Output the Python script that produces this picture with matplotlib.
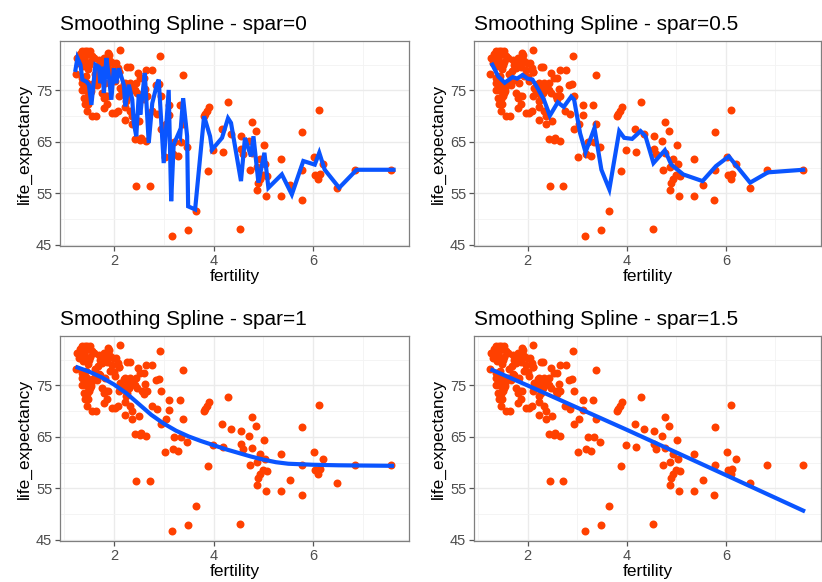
import numpy as np
import matplotlib.pyplot as plt
from matplotlib.ticker import MultipleLocator

plt.rcParams['font.family'] = ['Liberation Sans', 'DejaVu Sans']

# scatter data (fertility vs life expectancy)
fertility = [
    2.92, 2.12, 3.39, 2.77, 2.65, 2.32, 2.48, 2.60, 2.53, 2.90, 2.84, 2.63, 2.66, 2.94,
    3.11, 3.32, 4.28, 3.91, 3.87, 3.82, 3.80, 6.11, 2.76, 2.86, 3.11, 3.39, 3.04, 2.94,
    4.78, 4.85, 4.16, 4.34, 4.56, 5.78, 4.72, 5.02, 2.43, 2.55, 2.65, 3.21, 3.35, 3.46,
    3.99, 4.18, 4.55, 4.59, 4.78, 3.18, 3.29, 3.02, 6.02, 5.36, 6.20, 4.94, 5.04, 4.87,
    4.74, 3.89, 5.78, 6.84, 7.56, 6.04, 6.13, 6.10, 5.08, 5.00, 4.94, 4.90, 5.53, 6.48,
    4.87, 5.06, 5.35, 5.77, 2.45, 2.72, 3.64, 3.49, 4.54, 3.16,
    1.27, 1.37, 1.47, 1.30, 1.40, 1.50, 1.57, 1.70, 1.80, 1.90, 1.93, 1.73, 1.77, 1.87,
    1.97, 2.27, 1.24, 1.37, 1.43, 1.37, 1.47, 1.53, 1.60, 1.67, 1.40, 1.43, 1.47, 1.57,
    1.50, 1.73, 1.83, 1.77, 1.80, 1.87, 1.80, 1.97, 2.03, 2.03, 2.13, 2.23, 2.33, 2.37,
    2.43, 2.20, 2.27, 2.57, 2.23, 2.33, 2.37, 2.50, 2.23, 2.37, 2.17, 2.53, 2.44, 2.05,
    1.42, 1.52, 1.35, 1.61, 1.88, 1.98, 1.81, 2.08, 2.11, 1.75, 1.39, 1.46, 1.55, 1.58,
    1.46, 1.48, 1.65, 1.71, 1.85, 1.88, 2.08, 2.11, 2.21, 2.28, 2.31, 2.11, 2.24, 2.47,
    2.60, 1.32, 1.45, 1.52, 1.36, 1.62, 1.44, 1.41, 1.55, 1.33, 1.49, 1.92, 2.00, 1.68,
]
life_expectancy = [
    81.6, 82.9, 78.0, 78.9, 78.9, 79.5, 78.4, 77.4, 77.4, 76.3, 76.1, 75.2, 73.9, 73.9,
    72.1, 72.1, 72.7, 71.7, 71.1, 70.5, 70.0, 71.3, 71.1, 70.4, 70.2, 68.4, 68.4, 67.6,
    68.8, 67.1, 67.6, 66.6, 66.2, 67.0, 65.2, 64.4, 65.5, 65.7, 65.2, 65.0, 65.0, 64.1,
    63.4, 63.1, 63.7, 62.6, 62.9, 62.6, 62.3, 62.0, 62.0, 61.7, 60.7, 61.6, 60.8, 60.2,
    59.5, 59.4, 59.5, 59.5, 59.5, 58.6, 58.8, 57.9, 58.3, 58.6, 57.9, 57.0, 56.6, 56.1,
    55.6, 54.5, 54.5, 53.7, 56.5, 56.5, 51.6, 48.0, 48.1, 46.7,
    81.3, 82.6, 82.6, 80.3, 80.9, 80.0, 81.6, 80.9, 81.3, 81.9, 80.7, 80.0, 79.3, 79.6,
    79.0, 79.5, 78.2, 76.4, 75.8, 75.1, 74.8, 74.5, 76.4, 76.1, 73.5, 72.3, 71.0, 70.0,
    73.9, 77.1, 76.5, 74.5, 73.5, 72.3, 71.6, 70.6, 70.6, 76.8, 75.5, 76.5, 76.5, 75.5,
    75.1, 74.5, 73.5, 73.9, 71.7, 71.0, 70.0, 69.0, 69.3, 68.4, 74.8, 65.4, 76.5, 80.3,
    82.6, 82.6, 81.3, 81.3, 82.3, 80.4, 80.4, 79.4, 78.5, 80.0, 79.7, 76.5, 75.5, 76.2,
    73.3, 72.3, 70.1, 77.2, 74.0, 74.0, 71.0, 74.0, 76.2, 75.5, 74.6, 78.5, 73.0, 74.6,
    73.3, 82.0, 81.8, 80.6, 77.5, 78.2, 77.8, 75.3, 74.9, 80.8, 79.2, 77.9, 77.6, 78.8,
]

# fitted smoothing-spline curves, one per panel
spar_labels = ['0', '0.5', '1', '1.5']
fit0_x = [1.23, 1.27, 1.33, 1.37, 1.45, 1.50, 1.55, 1.60, 1.63, 1.70, 1.73, 1.77, 1.80, 1.85,
          1.90, 1.95, 2.00, 2.05, 2.10, 2.20, 2.23, 2.30, 2.37, 2.40, 2.45, 2.50, 2.53, 2.57,
          2.62, 2.70, 2.77, 2.87, 2.90, 3.00, 3.10, 3.15, 3.20, 3.30, 3.33, 3.39, 3.47, 3.49,
          3.63, 3.81, 3.93, 3.97, 4.17, 4.29, 4.35, 4.55, 4.63, 4.75, 4.80, 4.90, 5.02, 5.10,
          5.37, 5.57, 5.80, 6.03, 6.12, 6.23, 6.52, 6.87, 7.61]
fit0_y = [79.0, 81.3, 80.0, 77.1, 76.7, 76.1, 72.2, 77.1, 80.0, 79.6, 76.4, 79.6, 74.5, 81.3,
          77.7, 73.2, 79.3, 76.4, 79.3, 76.1, 71.9, 76.1, 73.2, 68.7, 66.1, 74.2, 70.3, 73.8,
          78.4, 64.8, 72.5, 76.4, 77.1, 60.9, 75.1, 53.5, 64.5, 66.7, 66.1, 73.5, 66.1, 52.5,
          51.9, 70.0, 66.1, 63.5, 65.8, 69.6, 68.7, 57.4, 65.8, 62.2, 66.1, 57.1, 62.9, 56.1,
          58.7, 54.8, 61.3, 60.6, 62.9, 59.6, 56.1, 59.6, 59.6]
fit05_x = [1.29, 1.41, 1.54, 1.70, 1.79, 1.90, 2.00, 2.10, 2.20, 2.33, 2.45, 2.61, 2.73, 2.88,
           2.94, 3.06, 3.17, 3.35, 3.49, 3.65, 3.85, 3.95, 4.11, 4.28, 4.38, 4.54, 4.77, 4.90,
           5.14, 5.53, 5.80, 6.06, 6.49, 6.85, 7.56]
fit05_y = [80.0, 77.7, 76.5, 77.6, 77.3, 78.0, 77.3, 77.1, 75.5, 73.2, 70.1, 72.7, 71.8, 73.8,
           73.2, 66.7, 63.0, 67.7, 59.6, 55.8, 67.1, 65.8, 65.6, 67.1, 66.1, 60.9, 63.4, 60.6,
           58.7, 57.4, 60.3, 62.2, 57.1, 59.1, 59.6]
fit1_x = [1.27, 1.50, 1.75, 2.00, 2.25, 2.50, 2.75, 3.00, 3.25, 3.50, 3.75, 4.00, 4.25,
          4.50, 4.75, 5.00, 5.25, 5.50, 6.00, 6.50, 7.00, 7.58]
fit1_y = [78.5, 77.7, 76.6, 75.2, 73.5, 71.4, 69.3, 67.6, 66.2, 65.1, 64.2, 63.4, 62.6,
          61.9, 61.2, 60.6, 60.1, 59.8, 59.6, 59.5, 59.45, 59.4]
fit15_x = [1.29, 2.00, 3.00, 4.00, 5.00, 6.00, 7.56]
fit15_y = [78.0, 75.0, 70.7, 66.4, 62.0, 57.6, 50.7]
fits = [(fit0_x, fit0_y), (fit05_x, fit05_y), (fit1_x, fit1_y), (fit15_x, fit15_y)]

fig = plt.figure(figsize=(8.22, 5.82), dpi=100)
W, H = 822, 582
boxes = [(60, 41, 409, 246), (474, 41, 821, 246),
         (60, 336, 409, 541), (474, 336, 821, 541)]

for i, (x0, y0, x1, y1) in enumerate(boxes):
    ax = fig.add_axes([x0 / W, 1 - y1 / H, (x1 - x0) / W, (y1 - y0) / H])
    ax.set_facecolor('white')
    ax.scatter(fertility, life_expectancy, s=33, color='#FF4000', linewidths=0, zorder=3)
    fx, fy = fits[i]
    ax.plot(fx, fy, color='#0A55FF', lw=3.0, zorder=4, solid_joinstyle='miter')
    ax.set_xlim(0.92, 7.92)
    ax.set_ylim(44.8, 84.6)
    ax.xaxis.set_major_locator(MultipleLocator(2))
    ax.xaxis.set_minor_locator(MultipleLocator(1))
    ax.set_yticks([45, 55, 65, 75])
    ax.set_yticks([50, 60, 70, 80], minor=True)
    ax.grid(which='major', color='#EBEBEB', lw=1.0, zorder=0)
    ax.grid(which='minor', color='#F3F3F3', lw=0.6, zorder=0)
    ax.set_axisbelow(True)
    for sp in ax.spines.values():
        sp.set_color('#7F7F7F')
        sp.set_linewidth(0.9)
    ax.tick_params(which='major', length=3.5, width=0.9, color='#555555',
                   labelsize=10.5, labelcolor='#4D4D4D', pad=2)
    ax.tick_params(which='minor', length=0)
    ax.set_xlabel('fertility', fontsize=12.5, labelpad=1)
    ax.set_ylabel('life_expectancy', fontsize=12.5, labelpad=3)
    ax.set_title('Smoothing Spline - spar=' + spar_labels[i], fontsize=15,
                 loc='left', pad=8)

fig.savefig('out.png', dpi=100)
